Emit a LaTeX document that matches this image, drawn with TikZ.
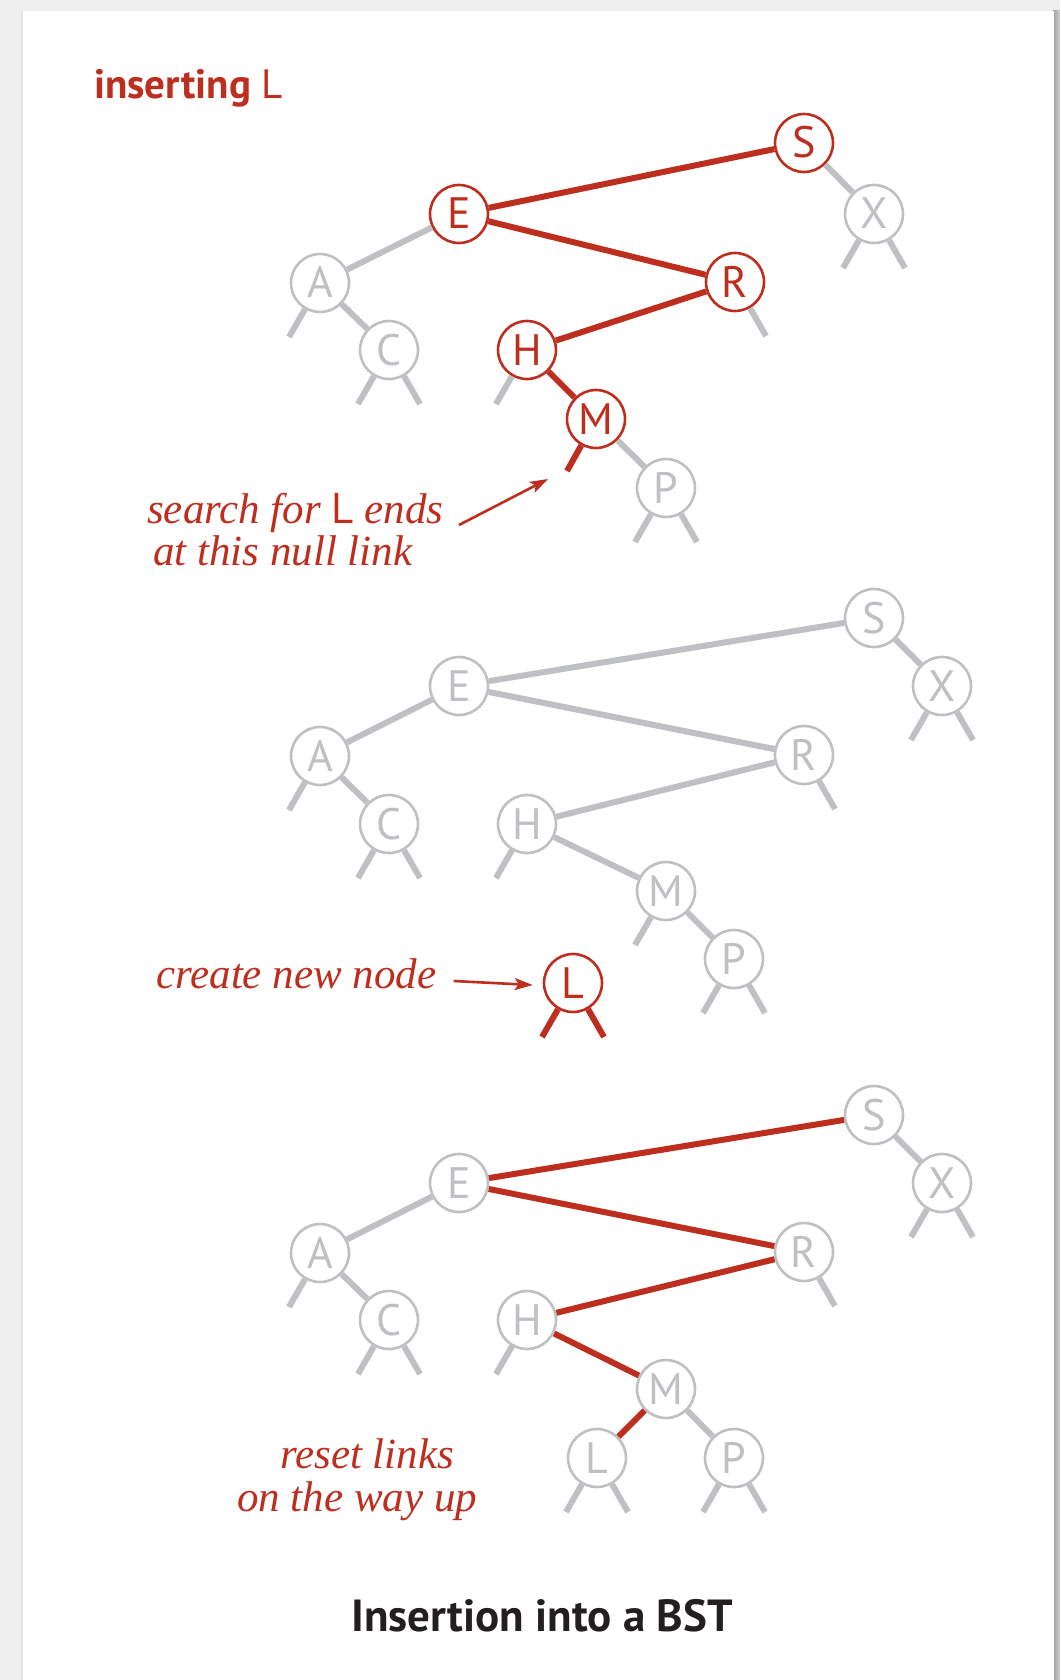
\documentclass[tikz,border=0pt]{standalone}
\usepackage{fontspec}
\usetikzlibrary{arrows.meta}
\newfontfamily\keyfont{PT Sans}
\newfontfamily\annfont{Liberation Serif}
\definecolor{rd}{RGB}{190,46,30}
\definecolor{gr}{RGB}{191,192,195}
\definecolor{ttl}{RGB}{35,31,32}
\definecolor{bgc}{RGB}{239,239,239}
\tikzset{
  bnode/.style={circle, draw=gr, line width=2.6pt, fill=white, minimum size=58pt, inner sep=0pt,
    text=gr, font=\keyfont\fontsize{44}{44}\selectfont, text height=30pt, text depth=0pt},
  rnode/.style={bnode, draw=rd, text=rd},
  glink/.style={draw=gr, line width=6pt},
  rlink/.style={draw=rd, line width=6pt},
  ann/.style={text=rd, font=\annfont\itshape\fontsize{43}{50}\selectfont, inner sep=0pt,
    text height=28pt, text depth=8pt, anchor=base west},
  ptr/.style={draw=rd, line width=2.6pt, -{Stealth[length=18pt,width=12pt,inset=4pt]}}
}
\begin{document}
\begin{tikzpicture}[x=1pt,y=-1pt]
\useasboundingbox (0,0) rectangle (1060,1680);
% page background and card
\fill[bgc] (0,0) rectangle (1060,1680);
\shade[left color=gray!75, right color=gray!35] (1053,11) rectangle (1060,1680);
\fill[gray!22] (21,11) rectangle (23,1680);
\fill[white] (23,11) rectangle (1054,1680);

% ---------- title ----------
\node[inner sep=0pt, anchor=base west, text=rd] (t0) at (94,99)
  {\keyfont\fontsize{41}{48}\selectfont\bfseries inserting \mdseries L};

% ---------- tree 1 ----------
\node[rnode] (s1) at (804,143) {S};
\node[rnode] (e1) at (459,214) {E};
\node[bnode] (x1) at (874,214) {X};
\node[rnode] (r1) at (735,282) {R};
\node[bnode] (a1) at (320,283) {A};
\node[bnode] (c1) at (389,350) {C};
\node[rnode] (h1) at (527,350) {H};
\node[rnode] (m1) at (596,419) {M};
\node[bnode] (p1) at (666,488) {P};
\draw[rlink] (s1) -- (e1);
\draw[rlink] (e1) -- (r1);
\draw[rlink] (r1) -- (h1);
\draw[rlink] (h1) -- (m1);
\draw[glink] (s1) -- (x1);
\draw[glink] (e1) -- (a1);
\draw[glink] (a1) -- (c1);
\draw[glink] (m1) -- (p1);
\draw[glink] (a1) -- ++(-31,54);
\draw[glink] (c1) -- ++(-31,54);
\draw[glink] (c1) -- ++(31,54);
\draw[glink] (x1) -- ++(-31,54);
\draw[glink] (x1) -- ++(31,54);
\draw[glink] (r1) -- ++(31,54);
\draw[glink] (h1) -- ++(-31,54);
\draw[rlink] (m1) -- ++(-29,52) coordinate (null1);
\draw[glink] (p1) -- ++(-31,54);
\draw[glink] (p1) -- ++(31,54);

\node[ann] (n1a) at (147,523) {search for {\upshape\keyfont L} ends};
\node[ann] (n1b) at (153,565) {at this null link};
\coordinate (q1) at (548,479);
\coordinate (q0) at (459,525);
\draw[ptr] (q0) -- (q1);

% ---------- tree 2 ----------
\node[bnode] (s2) at (874,618) {S};
\node[bnode] (e2) at (459,686) {E};
\node[bnode] (x2) at (942,686) {X};
\node[bnode] (r2) at (804,755) {R};
\node[bnode] (a2) at (320,756) {A};
\node[bnode] (c2) at (389,824) {C};
\node[bnode] (h2) at (527,824) {H};
\node[bnode] (m2) at (666,891) {M};
\node[bnode] (p2) at (734,959) {P};
\node[rnode] (l2) at (573,983) {L};
\draw[glink] (s2) -- (e2);
\draw[glink] (s2) -- (x2);
\draw[glink] (e2) -- (a2);
\draw[glink] (e2) -- (r2);
\draw[glink] (a2) -- (c2);
\draw[glink] (r2) -- (h2);
\draw[glink] (h2) -- (m2);
\draw[glink] (m2) -- (p2);
\draw[glink] (a2) -- ++(-31,54);
\draw[glink] (c2) -- ++(-31,54);
\draw[glink] (c2) -- ++(31,54);
\draw[glink] (x2) -- ++(-31,54);
\draw[glink] (x2) -- ++(31,54);
\draw[glink] (r2) -- ++(31,54);
\draw[glink] (h2) -- ++(-31,54);
\draw[glink] (m2) -- ++(-31,54);
\draw[glink] (p2) -- ++(-31,54);
\draw[glink] (p2) -- ++(31,54);
\draw[rlink] (l2) -- ++(-31,54);
\draw[rlink] (l2) -- ++(31,54);

\node[ann] (n2) at (156,988) {create new node};
\draw[ptr] (n2.east |- l2) ++(17,-2) -- ([xshift=-10pt,yshift=-2pt]l2.west);

% ---------- tree 3 ----------
\node[bnode] (s3) at (874,1115) {S};
\node[bnode] (e3) at (459,1183) {E};
\node[bnode] (x3) at (942,1183) {X};
\node[bnode] (r3) at (804,1252) {R};
\node[bnode] (a3) at (320,1253) {A};
\node[bnode] (c3) at (389,1320) {C};
\node[bnode] (h3) at (527,1320) {H};
\node[bnode] (m3) at (666,1389) {M};
\node[bnode] (l3) at (597,1458) {L};
\node[bnode] (p3) at (734,1458) {P};
\draw[rlink] (s3) -- (e3);
\draw[rlink] (e3) -- (r3);
\draw[rlink] (r3) -- (h3);
\draw[rlink] (h3) -- (m3);
\draw[rlink] (m3) -- (l3);
\draw[glink] (s3) -- (x3);
\draw[glink] (e3) -- (a3);
\draw[glink] (a3) -- (c3);
\draw[glink] (m3) -- (p3);
\draw[glink] (a3) -- ++(-31,54);
\draw[glink] (c3) -- ++(-31,54);
\draw[glink] (c3) -- ++(31,54);
\draw[glink] (x3) -- ++(-31,54);
\draw[glink] (x3) -- ++(31,54);
\draw[glink] (r3) -- ++(31,54);
\draw[glink] (h3) -- ++(-31,54);
\draw[glink] (l3) -- ++(-31,54);
\draw[glink] (l3) -- ++(31,54);
\draw[glink] (p3) -- ++(-31,54);
\draw[glink] (p3) -- ++(31,54);

\node[ann] (n3a) at (280,1468) {reset links};
\node[ann] (n3b) at (237,1511) {on the way up};

% ---------- caption ----------
\node[inner sep=0pt, anchor=base, text=ttl] (cap) at (542,1631)
  {\keyfont\bfseries\fontsize{45}{50}\selectfont Insertion into a BST};
\end{tikzpicture}
\end{document}
